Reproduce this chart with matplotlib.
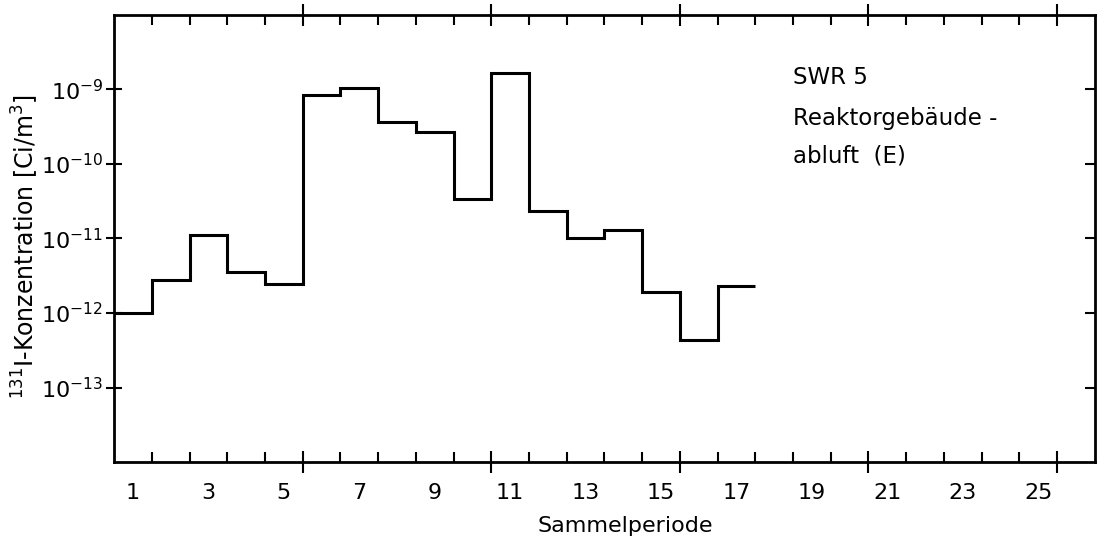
import numpy as np
import matplotlib.pyplot as plt

# Sammelperioden und gemessene I-131-Konzentration (Ci/m3)
perioden = np.arange(1, 18)
konzentration = [1.0e-12, 2.75e-12, 1.1e-11, 3.6e-12, 2.45e-12,
                 8.3e-10, 1.05e-9, 3.6e-10, 2.65e-10, 3.4e-11,
                 1.65e-9, 2.35e-11, 1.0e-11, 1.3e-11, 1.9e-12,
                 4.4e-13, 2.3e-12]

x_labels = list(range(1, 26, 2))
y_ticks = [1e-13, 1e-12, 1e-11, 1e-10, 1e-9]
y_labels = [r'$10^{-13}$', r'$10^{-12}$', r'$10^{-11}$', r'$10^{-10}$', r'$10^{-9}$']

plt.rcParams['font.family'] = ['DejaVu Sans']
plt.rcParams['mathtext.fontset'] = 'dejavusans'

fig = plt.figure(figsize=(10.98, 5.47), dpi=100)
ax = fig.add_axes([0.104, 0.155, 0.893, 0.818])

edges = np.append(perioden - 0.5, perioden[-1] + 0.5)
ax.stairs(konzentration, edges, baseline=None, color='black', lw=2.2)

ax.set_yscale('log')
ax.set_xlim(0.5, 26.5)
ax.set_ylim(1e-14, 1e-8)

for s in ax.spines.values():
    s.set_linewidth(2.0)

# Periodengrenzen als Ticks, jede fuenfte laenger
grenzen = np.arange(1.5, 26.5)
ax.set_xticks([g for g in grenzen if (g - 0.5) % 5 == 0])
ax.set_xticks([g for g in grenzen if (g - 0.5) % 5 != 0], minor=True)
ax.tick_params(axis='x', which='major', direction='inout', length=16, width=1.5,
               top=True, bottom=True, labelbottom=False)
ax.tick_params(axis='x', which='minor', direction='in', length=7, width=1.5,
               top=True, bottom=True)

sec_x = ax.secondary_xaxis('bottom')
sec_x.set_xticks(x_labels)
sec_x.set_xticklabels([str(v) for v in x_labels])
sec_x.tick_params(length=0, pad=15, labelsize=16)
sec_x.spines['bottom'].set_visible(False)

ax.set_yticks(y_ticks)
ax.set_yticklabels(y_labels)
ax.yaxis.set_minor_locator(plt.NullLocator())
ax.tick_params(axis='y', which='major', direction='inout', length=12, width=1.5,
               labelsize=16, pad=2)

sec_y = ax.secondary_yaxis('right')
sec_y.set_yticks(y_ticks)
sec_y.yaxis.set_minor_locator(plt.NullLocator())
sec_y.tick_params(direction='in', length=7, width=1.5, labelright=False)
sec_y.spines['right'].set_visible(False)

fig.text(0.023, 0.55, r'$^{131}$I-Konzentration [Ci/m$^3$]', rotation=90,
         ha='center', va='center', fontsize=17)
fig.text(0.569, 0.038, 'Sammelperiode', ha='center', va='center', fontsize=16)

fig.text(0.722, 0.858, 'SWR 5', ha='left', va='center', fontsize=16.5)
fig.text(0.722, 0.784, 'Reaktorgebäude -', ha='left', va='center', fontsize=16.5)
fig.text(0.722, 0.714, 'abluft  (E)', ha='left', va='center', fontsize=16.5)

fig.savefig('out.png', dpi=100)
